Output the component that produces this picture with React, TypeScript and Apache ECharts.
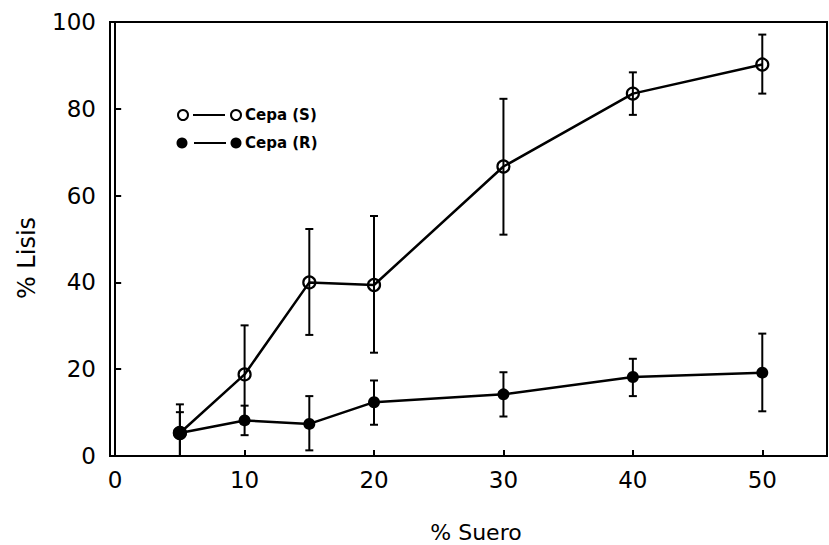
import React, { useEffect, useRef } from "react";
import * as echarts from "echarts";

const xValues = [5, 10, 15, 20, 30, 40, 50];
const cepaS = [5.3, 18.8, 40.0, 39.4, 66.7, 83.5, 90.2];
const cepaSLow = [0, 7.5, 27.9, 23.8, 51.0, 78.6, 83.5];
const cepaSHigh = [11.9, 30.1, 52.3, 55.3, 82.3, 88.4, 97.1];
const cepaR = [5.3, 8.2, 7.4, 12.4, 14.2, 18.2, 19.2];
const cepaRLow = [0, 4.8, 1.3, 7.2, 9.1, 13.8, 10.3];
const cepaRHigh = [10.1, 11.6, 13.8, 17.4, 19.3, 22.4, 28.2];
const xTicks = [0, 10, 20, 30, 40, 50];
const seriesNames = ["Cepa (S)", "Cepa (R)"];
const xTitle = "% Suero";
const yTitle = "% Lisis";

const FONT = "DejaVu Sans";

function errorSeries(low: number[], high: number[]) {
  return {
    type: "custom",
    silent: true,
    z: 2,
    data: xValues.map((x, i) => [x, low[i], high[i]]),
    renderItem: (_params: any, api: any) => {
      const x = api.value(0);
      const top = api.coord([x, api.value(2)]);
      const bot = api.coord([x, api.value(1)]);
      const cap = 4;
      const st = { stroke: "#000", lineWidth: 2 };
      return {
        type: "group",
        children: [
          { type: "line", shape: { x1: top[0], y1: top[1], x2: bot[0], y2: bot[1] }, style: st },
          { type: "line", shape: { x1: top[0] - cap, y1: top[1], x2: top[0] + cap, y2: top[1] }, style: st },
          { type: "line", shape: { x1: bot[0] - cap, y1: bot[1], x2: bot[0] + cap, y2: bot[1] }, style: st },
        ],
      };
    },
  };
}

export default function App() {
  const ref = useRef<HTMLDivElement>(null);
  useEffect(() => {
    if (!ref.current) return;
    const chart = echarts.init(ref.current, null, { renderer: "svg" });
    const legendLine = { stroke: "#000", lineWidth: 2 };
    chart.setOption({
      animation: false,
      backgroundColor: "#fff",
      grid: {
        left: 110,
        top: 22,
        right: 2,
        bottom: 89,
        show: true,
        borderColor: "#000",
        borderWidth: 2,
        backgroundColor: "transparent",
      },
      xAxis: {
        type: "value",
        min: -0.4,
        max: 55,
        axisLine: { show: true, lineStyle: { color: "#000", width: 2 } },
        axisTick: { show: true, inside: true, length: 6, customValues: xTicks, lineStyle: { color: "#000", width: 2 } },
        axisLabel: { customValues: xTicks, color: "#000", fontFamily: FONT, fontSize: 23, margin: 12 },
        splitLine: { show: false },
      },
      yAxis: {
        type: "value",
        min: 0,
        max: 100,
        interval: 20,
        axisLine: { show: true, lineStyle: { color: "#000", width: 2 } },
        axisTick: { show: true, inside: true, length: 6, lineStyle: { color: "#000", width: 2 } },
        axisLabel: { color: "#000", fontFamily: FONT, fontSize: 23, margin: 14 },
        splitLine: { show: false },
      },
      graphic: [
        {
          type: "text",
          x: 27,
          y: 258,
          rotation: Math.PI / 2,
          style: { text: yTitle, fill: "#000", font: `24px "${FONT}"`, textAlign: "center", textVerticalAlign: "middle" },
        },
        {
          type: "text",
          x: 476,
          y: 532,
          style: { text: xTitle, fill: "#000", font: `22px "${FONT}"`, textAlign: "center", textVerticalAlign: "middle" },
        },
        { type: "circle", shape: { cx: 183, cy: 115, r: 5 }, style: { fill: "#fff", stroke: "#000", lineWidth: 2 } },
        { type: "line", shape: { x1: 193, y1: 115, x2: 225, y2: 115 }, style: legendLine },
        { type: "circle", shape: { cx: 236, cy: 115, r: 5 }, style: { fill: "#fff", stroke: "#000", lineWidth: 2 } },
        {
          type: "text",
          x: 245,
          y: 115,
          style: { text: seriesNames[0], fill: "#000", font: `bold 15px "${FONT}"`, textAlign: "left", textVerticalAlign: "middle" },
        },
        { type: "circle", shape: { cx: 182, cy: 143, r: 5.5 }, style: { fill: "#000" } },
        { type: "line", shape: { x1: 194, y1: 143, x2: 226, y2: 143 }, style: legendLine },
        { type: "circle", shape: { cx: 236, cy: 143, r: 5.5 }, style: { fill: "#000" } },
        {
          type: "text",
          x: 245,
          y: 143,
          style: { text: seriesNames[1], fill: "#000", font: `bold 15px "${FONT}"`, textAlign: "left", textVerticalAlign: "middle" },
        },
      ],
      series: [
        errorSeries(cepaSLow, cepaSHigh),
        errorSeries(cepaRLow, cepaRHigh),
        {
          name: seriesNames[0],
          type: "line",
          z: 3,
          data: xValues.map((x, i) => [x, cepaS[i]]),
          symbol: "circle",
          symbolSize: 12,
          lineStyle: { color: "#000", width: 2.5 },
          itemStyle: { color: "rgba(255,255,255,0)", borderColor: "#000", borderWidth: 2.2 },
        },
        {
          name: seriesNames[1],
          type: "line",
          z: 4,
          data: xValues.map((x, i) => [x, cepaR[i]]),
          symbol: "circle",
          symbolSize: (_v: any, p: any) => (p.dataIndex === 0 ? 14 : 12),
          lineStyle: { color: "#000", width: 2.5 },
          itemStyle: { color: "#000", borderColor: "#000", borderWidth: 0 },
        },
      ],
    });
    return () => chart.dispose();
  }, []);
  return (
    <div
      ref={ref}
      style={{ position: "absolute", left: 0, top: 0, width: 829, height: 545 }}
    />
  );
}
